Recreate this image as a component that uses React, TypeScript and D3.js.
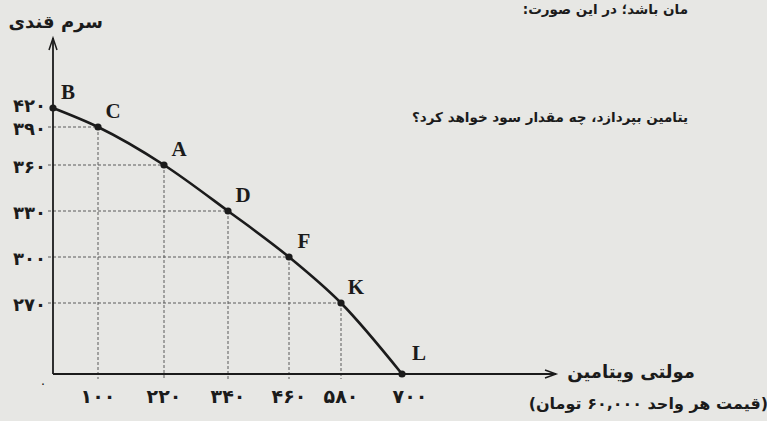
import React, { useEffect } from "react";
import * as d3 from "d3";

// ---- data ----
const pointNames = ["B", "C", "A", "D", "F", "K", "L"];
const vitaminQty = [0, 100, 220, 340, 460, 580, 700];
const serumQty = [420, 390, 360, 330, 300, 270, 0];
const xTickValues = [100, 220, 340, 460, 580, 700];
const yTickValues = [270, 300, 330, 360, 390, 420];
const yAxisTitle = "سرم قندی";
const xAxisTitle = "مولتی ویتامین";
const xAxisSubtitle = "(قیمت هر واحد ۶۰,۰۰۰ تومان)";
const pageLineTop = "مان باشد؛ در این صورت:";
const pageLineMid = "یتامین بپردازد، چه مقدار سود خواهد کرد؟";

// ---- layout ----
const W = 767;
const H = 421;
// the hand-drawn axes are not to scale: piecewise stops for each axis
const X_PIXELS = [53, 98, 164, 228, 289, 341, 402];
const Y_PIXELS = [374, 303, 257, 211, 165, 127, 108];

const faDigits = "۰۱۲۳۴۵۶۷۸۹";
const toFa = (n: number) => String(n).replace(/[0-9]/g, (d) => faDigits[+d]);

const INK = "#1b1b1b";
const FA_FONT = "'DejaVu Sans', sans-serif";

export default function App() {
  useEffect(() => {
    document.body.style.margin = "0";
  }, []);

  const x = d3.scaleLinear().domain([0, ...xTickValues]).range(X_PIXELS);
  const y = d3.scaleLinear().domain([0, ...yTickValues]).range(Y_PIXELS);

  const pts = pointNames.map((name, i) => ({ name, vx: vitaminQty[i], sy: serumQty[i] }));
  const line = d3
    .line<{ vx: number; sy: number }>()
    .x((d) => x(d.vx))
    .y((d) => y(d.sy))
    .curve(d3.curveMonotoneX);

  const x0 = x(0);
  const y0 = y(0);
  const yTop = 38;
  const xEnd = 556;
  const topTick = yTickValues[yTickValues.length - 1];

  return (
    <svg width={W} height={H} style={{ display: "block" }}>
      <rect width={W} height={H} fill="#e7e7e4" />

      {/* fragments of the surrounding page */}
      <text x={688} y={14} direction="rtl" textAnchor="start" fontFamily={FA_FONT} fontWeight="bold" fontSize={13.5} fill={INK}>
        {pageLineTop}
      </text>
      <text x={688} y={122} direction="rtl" textAnchor="start" fontFamily={FA_FONT} fontWeight="bold" fontSize={13.5} fill={INK}>
        {pageLineMid}
      </text>

      {/* guide lines */}
      <g stroke="#5a5a5a" strokeWidth={1} strokeDasharray="3 2" fill="none">
        {pts
          .filter((p) => p.vx > 0 && p.sy > 0)
          .map((p) => (
            <g key={p.name}>
              <line x1={x0 - 5} x2={x(p.vx)} y1={y(p.sy)} y2={y(p.sy)} />
              <line x1={x(p.vx)} x2={x(p.vx)} y1={y(p.sy)} y2={y0 + 5} />
            </g>
          ))}
      </g>

      {/* axes */}
      <g stroke={INK} strokeWidth={1.8} fill="none">
        <line x1={x0} x2={x0} y1={y0} y2={yTop} />
        <line x1={x0} x2={xEnd} y1={y0} y2={y0} />
        <path d={`M${x0 - 4},${yTop + 12} L${x0},${yTop} L${x0 + 4},${yTop + 12}`} strokeWidth={1.5} />
        <path d={`M${xEnd - 11},${y0 - 4} L${xEnd},${y0} L${xEnd - 11},${y0 + 4}`} strokeWidth={1.5} />
      </g>

      {/* tick labels */}
      <g fontFamily={FA_FONT} fontWeight="bold" fontSize={18} fill={INK}>
        {yTickValues.map((v) => (
          <text key={v} x={x0 - 7} y={y(v) + (v === topTick ? 4 : 8)} textAnchor="end">
            {toFa(v)}
          </text>
        ))}
        {xTickValues.map((v, i) => (
          <text key={v} x={x(v) + (i === xTickValues.length - 1 ? 8 : 0)} y={y0 + 29} textAnchor="middle" fontSize={19}>
            {toFa(v)}
          </text>
        ))}
        <text x={x0 - 10} y={y0 + 14} textAnchor="middle" fontSize={13} fontWeight="normal">
          {toFa(0)}
        </text>
      </g>

      {/* axis titles */}
      <text x={103} y={28} direction="rtl" textAnchor="start" fontFamily={FA_FONT} fontWeight="bold" fontSize={18} fill={INK}>
        {yAxisTitle}
      </text>
      <text x={695} y={378} direction="rtl" textAnchor="start" fontFamily={FA_FONT} fontWeight="bold" fontSize={18} fill={INK}>
        {xAxisTitle}
      </text>
      <text x={768} y={409} direction="rtl" textAnchor="start" fontFamily={FA_FONT} fontWeight="bold" fontSize={16} fill={INK}>
        {xAxisSubtitle}
      </text>

      {/* frontier */}
      <path d={line(pts) || ""} fill="none" stroke={INK} strokeWidth={2.6} strokeLinejoin="round" />
      {pts.map((p) => (
        <circle key={p.name} cx={x(p.vx)} cy={y(p.sy)} r={3.6} fill={INK} />
      ))}
      <g fontFamily="'Liberation Serif', serif" fontWeight="bold" fontSize={21} fill={INK}>
        {pts.map((p) => (
          <text key={p.name} x={x(p.vx) + (p.sy === 0 ? 17 : 15)} y={y(p.sy) - (p.sy === 0 ? 14 : 9)} textAnchor="middle">
            {p.name}
          </text>
        ))}
      </g>
    </svg>
  );
}
